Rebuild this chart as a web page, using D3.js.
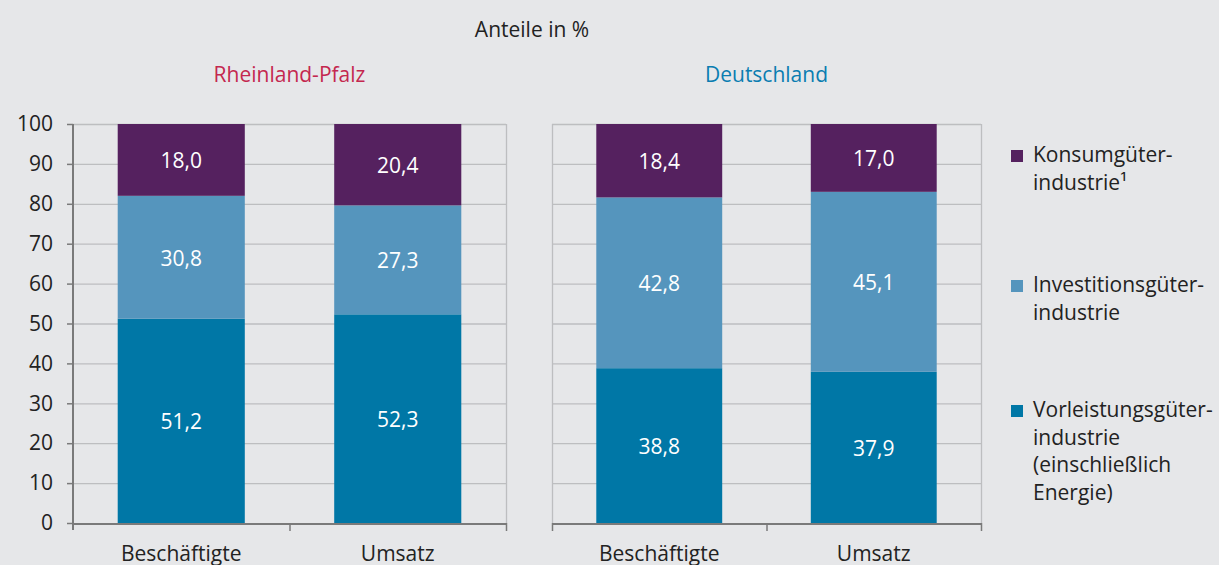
<!DOCTYPE html>
<html>
<head>
<meta charset="utf-8">
<script src="https://cdn.jsdelivr.net/npm/d3@7"></script>
<style>
  body { margin: 0; background: #e6e7e9; }
  svg { display: block; font-family: "Open Sans", "Noto Sans", sans-serif; }
</style>
</head>
<body>
<svg id="chart" width="1219" height="565"></svg>
<script>
// data
const regions = ["Rheinland-Pfalz", "Deutschland"];
const groups = ["Beschäftigte", "Umsatz"];
const series = ["Vorleistung", "Investition", "Konsum"];
const vorleistung = [[51.2, 52.3], [38.8, 37.9]];
const investition = [[30.8, 27.3], [42.8, 45.1]];
const konsum = [[18.0, 20.4], [18.4, 17.0]];
const yTicks = [0, 10, 20, 30, 40, 50, 60, 70, 80, 90, 100];
const legendLines = [
  ["Konsumgüter-", "industrie¹"],
  ["Investitionsgüter-", "industrie"],
  ["Vorleistungsgüter-", "industrie", "(einschließlich", "Energie)"]
];

const colors = { Vorleistung: "#0077a6", Investition: "#5595bd", Konsum: "#55215f" };
const titleColors = ["#c4274f", "#0a7db1"];
const axisDark = "#7a7a7a", gridCol = "#bdbec0";
const fs = "21px";

const svg = d3.select("#chart");
const yTop = 124, yBottom = 523;
const panels = [{ x0: 73, x1: 506 }, { x0: 552, x1: 981 }];

const y = d3.scaleLinear().domain([0, 100]).range([yBottom, yTop]);

svg.append("text")
  .attr("x", 532).attr("y", 37)
  .attr("text-anchor", "middle")
  .style("font-size", fs).style("fill", "#222")
  .text("Anteile in %");

// one panel per region, stacked bars
regions.forEach((reg, ri) => {
  const p = panels[ri];
  const x = d3.scaleBand().domain(groups).range([p.x0, p.x1]).paddingInner(0.413).paddingOuter(0.2065);
  const rows = groups.map((g, gi) => ({
    group: g,
    Vorleistung: vorleistung[ri][gi],
    Investition: investition[ri][gi],
    Konsum: konsum[ri][gi]
  }));
  const stacked = d3.stack().keys(series)(rows);
  const g = svg.append("g");

  // panel title
  g.append("text")
    .attr("x", (p.x0 + p.x1) / 2).attr("y", 82)
    .attr("text-anchor", "middle")
    .style("font-size", fs).style("fill", titleColors[ri])
    .text(reg);

  // grid
  g.selectAll(".grid").data(yTicks.filter(t => t > 0)).join("line")
    .attr("x1", p.x0).attr("x2", p.x1)
    .attr("y1", d => y(d) + 0.5).attr("y2", d => y(d) + 0.5)
    .attr("stroke", gridCol).attr("stroke-width", 1.3);
  g.append("line")
    .attr("x1", p.x1 + 0.5).attr("x2", p.x1 + 0.5)
    .attr("y1", yTop).attr("y2", yBottom)
    .attr("stroke", gridCol).attr("stroke-width", 1.3);

  // bars + value labels
  stacked.forEach(layer => {
    g.selectAll(null).data(layer).join("rect")
      .attr("x", d => x(d.data.group))
      .attr("width", x.bandwidth())
      .attr("y", d => y(d[1]))
      .attr("height", d => y(d[0]) - y(d[1]))
      .attr("fill", colors[layer.key]);
    g.selectAll(null).data(layer).join("text")
      .attr("x", d => x(d.data.group) + x.bandwidth() / 2)
      .attr("y", d => (y(d[0]) + y(d[1])) / 2 + 1)
      .attr("dy", "0.35em")
      .attr("text-anchor", "middle")
      .style("font-size", fs).style("fill", "#fff")
      .text(d => d3.format(".1f")(d[1] - d[0]).replace(".", ","));
  });

  // left axis
  if (ri === 0) {
    const ax = svg.append("g").attr("transform", `translate(${p.x0},0)`)
      .call(d3.axisLeft(y).tickValues(yTicks).tickSize(6).tickPadding(14));
    ax.select(".domain").attr("stroke", axisDark).attr("stroke-width", 2)
      .attr("d", `M0,${yTop}V${yBottom + 7}`);
    ax.selectAll(".tick line").attr("stroke", axisDark).attr("stroke-width", 1.5);
    ax.selectAll(".tick text").style("font-size", fs).style("fill", "#222")
      .style("font-family", "'Open Sans', 'Noto Sans', sans-serif");
  } else {
    g.append("line")
      .attr("x1", p.x0 + 0.5).attr("x2", p.x0 + 0.5)
      .attr("y1", yTop).attr("y2", yBottom)
      .attr("stroke", gridCol).attr("stroke-width", 1.3);
  }

  // bottom axis
  g.append("line")
    .attr("x1", p.x0).attr("x2", p.x1 + 1)
    .attr("y1", yBottom + 1).attr("y2", yBottom + 1)
    .attr("stroke", axisDark).attr("stroke-width", 2);
  const bticks = ri === 0 ? [(p.x0 + p.x1) / 2, p.x1] : [p.x0, (p.x0 + p.x1) / 2, p.x1];
  g.selectAll(".bt").data(bticks).join("line")
    .attr("x1", d => d + 0.5).attr("x2", d => d + 0.5)
    .attr("y1", yBottom).attr("y2", yBottom + 8)
    .attr("stroke", axisDark).attr("stroke-width", 1.5);

  g.selectAll(".xl").data(groups).join("text")
    .attr("x", d => x(d) + x.bandwidth() / 2)
    .attr("y", 561)
    .attr("text-anchor", "middle")
    .style("font-size", fs).style("fill", "#222")
    .text(d => d);
});

// legend
const legendKeys = ["Konsum", "Investition", "Vorleistung"];
const legendY = [156, 286, 411];
legendKeys.forEach((k, i) => {
  const lg = svg.append("g").attr("transform", `translate(1011,${legendY[i]})`);
  lg.append("rect").attr("x", 0).attr("y", -6).attr("width", 12).attr("height", 12)
    .attr("fill", colors[k]);
  const t = lg.append("text").attr("x", 22).attr("y", 0)
    .style("font-size", fs).style("fill", "#222");
  legendLines[i].forEach((line, li) => {
    t.append("tspan").attr("x", 22).attr("y", li * 27.5).attr("dy", "0.3em").text(line);
  });
});
</script>
</body>
</html>
